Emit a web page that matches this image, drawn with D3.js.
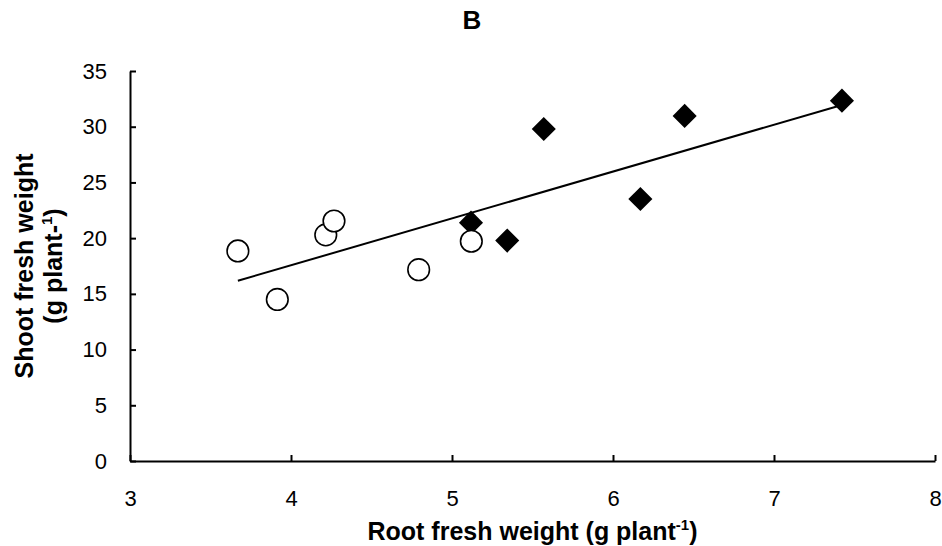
<!DOCTYPE html>
<html>
<head>
<meta charset="utf-8">
<script src="https://cdn.jsdelivr.net/npm/d3@7"></script>
<style>
  html, body { margin: 0; padding: 0; background: #fff; }
  svg { display: block; font-family: "Liberation Sans", Arial, sans-serif; }
</style>
</head>
<body>
<svg id="chart" width="942" height="546"></svg>
<script>
// Open circles series
const circleX = [3.67, 3.915, 4.216, 4.267, 4.793, 5.12];
const circleY = [18.85, 14.5, 20.29, 21.54, 17.17, 19.72];
// Filled diamonds series
const diamondX = [5.118, 5.343, 5.57, 6.17, 6.445, 7.422];
const diamondY = [21.39, 19.78, 29.8, 23.52, 30.97, 32.34];
// Axis ticks
const xTicks = [3, 4, 5, 6, 7, 8];
const yTicks = [0, 5, 10, 15, 20, 25, 30, 35];
const titleText = "B";

const svg = d3.select("#chart");
const x = d3.scaleLinear().domain([3, 8]).range([130, 935]);
const y = d3.scaleLinear().domain([0, 35]).range([461, 71]);

// Title
svg.append("text")
  .attr("x", 472).attr("y", 29)
  .attr("text-anchor", "middle")
  .attr("font-size", 26).attr("font-weight", "bold")
  .text(titleText);

// Axes
const xAxis = d3.axisBottom(x).tickValues(xTicks).tickFormat(d3.format("d"))
  .tickSizeInner(-6).tickSizeOuter(0).tickPadding(29);
const yAxis = d3.axisLeft(y).tickValues(yTicks).tickFormat(d3.format("d"))
  .tickSizeInner(-6).tickSizeOuter(0).tickPadding(23);

const gx = svg.append("g").attr("transform", `translate(0,${y(0)})`).call(xAxis);
const gy = svg.append("g").attr("transform", `translate(${x(3)},0)`).call(yAxis);
[gx, gy].forEach(g => {
  g.select(".domain").attr("stroke", "#000").attr("stroke-width", 2);
  g.selectAll(".tick line").attr("stroke", "#000").attr("stroke-width", 2);
  g.selectAll(".tick text").attr("fill", "#000").attr("font-size", 22)
    .attr("font-family", "Liberation Sans, Arial, sans-serif");
});

// Regression line computed from all points
const allX = circleX.concat(diamondX);
const allY = circleY.concat(diamondY);
const mx = d3.mean(allX), my = d3.mean(allY);
const slope = d3.sum(allX, (v, i) => (v - mx) * (allY[i] - my)) / d3.sum(allX, v => (v - mx) ** 2);
const icpt = my - slope * mx;
const x0 = d3.min(allX), x1 = d3.max(allX);
svg.append("line")
  .attr("x1", x(x0)).attr("y1", y(icpt + slope * x0))
  .attr("x2", x(x1)).attr("y2", y(icpt + slope * x1))
  .attr("stroke", "#000").attr("stroke-width", 2);

// Diamonds
const diamond = d3.symbol().type(d3.symbolSquare).size(290);
svg.append("g").selectAll("path").data(diamondX).join("path")
  .attr("d", diamond)
  .attr("transform", (d, i) => `translate(${x(d)},${y(diamondY[i])}) rotate(45)`)
  .attr("fill", "#000");

// Circles
svg.append("g").selectAll("circle").data(circleX).join("circle")
  .attr("cx", d => x(d)).attr("cy", (d, i) => y(circleY[i]))
  .attr("r", 10.8)
  .attr("fill", "#fff").attr("stroke", "#000").attr("stroke-width", 1.6);

// Axis titles
const xl = svg.append("text")
  .attr("x", (x(3) + x(8)) / 2).attr("y", 540)
  .attr("text-anchor", "middle").attr("font-size", 25).attr("font-weight", "bold");
xl.append("tspan").text("Root fresh weight (g plant");
xl.append("tspan").attr("font-size", 15).attr("dy", -10).text("-1");
xl.append("tspan").attr("dy", 10).text(")");

const cy = (y(0) + y(35)) / 2;
const yl = svg.append("text")
  .attr("transform", `translate(33,${cy}) rotate(-90)`)
  .attr("text-anchor", "middle").attr("font-size", 25).attr("font-weight", "bold");
yl.append("tspan").attr("x", 0).attr("y", 0).text("Shoot fresh weight");
const l2 = yl.append("tspan").attr("x", 0).attr("y", 29);
l2.append("tspan").text("(g plant-");
l2.append("tspan").attr("font-size", 15).attr("dy", -10).text("1");
l2.append("tspan").attr("dy", 10).text(")");
</script>
</body>
</html>
